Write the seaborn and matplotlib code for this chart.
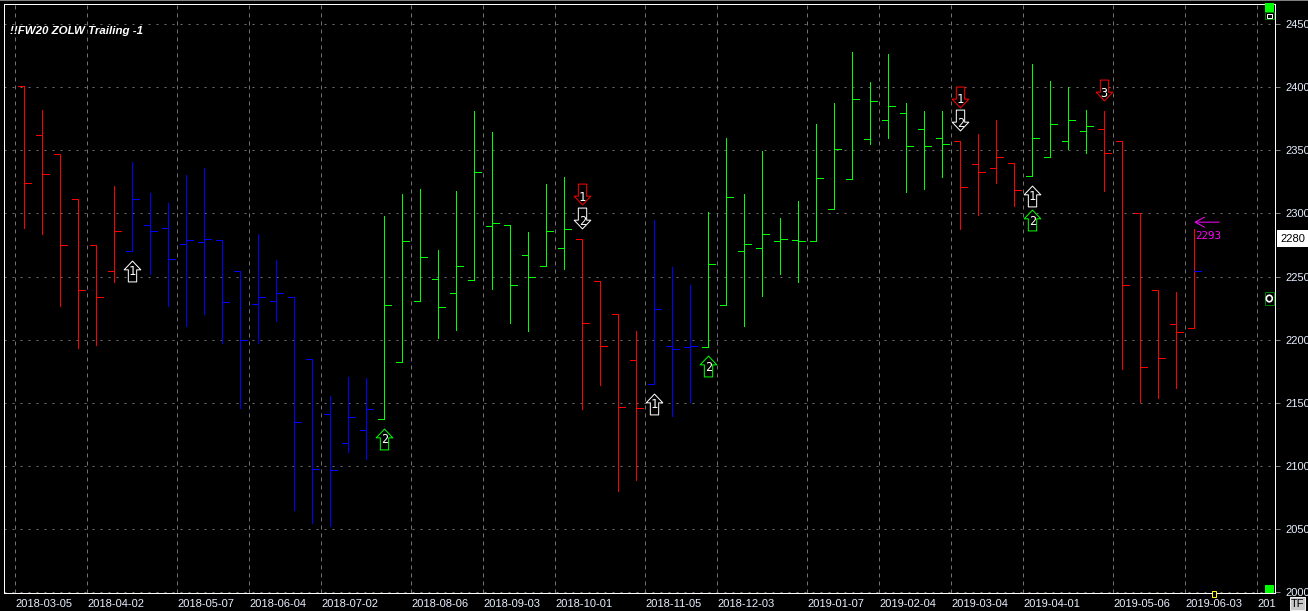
import pandas as pd
import matplotlib
matplotlib.use('Agg')
import matplotlib.pyplot as plt
from matplotlib.patches import Rectangle, Ellipse
from matplotlib.path import Path
import seaborn as sns

# weekly bars
bar_open = [2400.5, 2361.7, 2346.7, 2311.0, 2274.7, 2254.0, 2270.0, 2290.5, 2288.0, 2276.0, 2277.0,
            2278.6, 2254.0, 2228.0, 2231.0, 2233.5, 2184.4, 2141.0, 2118.0, 2128.4, 2137.0, 2182.0,
            2230.5, 2247.9, 2236.8, 2247.0, 2289.8, 2290.6, 2267.0, 2258.0, 2272.4, 2279.6, 2246.3,
            2220.0, 2183.8, 2165.0, 2195.0, 2194.0, 2194.0, 2227.4, 2270.2, 2272.6, 2278.0, 2279.0,
            2278.0, 2303.4, 2327.0, 2358.8, 2373.9, 2379.4, 2366.8, 2359.6, 2357.3, 2339.0, 2335.9,
            2339.8, 2329.6, 2344.6, 2357.3, 2365.0, 2366.8, 2357.3, 2300.3, 2239.3, 2212.4, 2209.0]
bar_high = [2400.5, 2381.5, 2346.7, 2311.0, 2274.7, 2321.4, 2340.4, 2316.0, 2308.0, 2330.0, 2335.6,
            2278.6, 2254.0, 2284.0, 2263.0, 2233.5, 2184.4, 2155.4, 2170.6, 2169.8, 2298.0, 2315.4,
            2319.4, 2271.0, 2317.8, 2381.0, 2364.0, 2290.6, 2285.0, 2323.0, 2329.0, 2279.6, 2246.3,
            2220.0, 2207.0, 2294.7, 2257.8, 2243.5, 2301.0, 2359.6, 2315.3, 2349.6, 2296.3, 2309.8,
            2370.7, 2387.3, 2427.7, 2404.0, 2426.0, 2387.3, 2381.0, 2381.0, 2357.3, 2362.8, 2373.9,
            2339.8, 2418.0, 2405.0, 2400.0, 2381.8, 2381.0, 2357.3, 2300.3, 2239.3, 2237.7, 2287.6]
bar_low = [2288.0, 2284.0, 2227.0, 2193.7, 2196.0, 2246.0, 2270.0, 2252.0, 2227.0, 2211.0, 2220.6,
           2197.0, 2146.0, 2197.0, 2215.0, 2065.5, 2055.0, 2052.8, 2111.0, 2106.0, 2137.0, 2182.0,
           2230.5, 2201.0, 2207.3, 2247.0, 2240.5, 2213.6, 2206.5, 2258.0, 2256.0, 2145.5, 2164.5,
           2080.0, 2089.0, 2165.0, 2139.6, 2150.7, 2194.0, 2227.4, 2210.6, 2234.3, 2251.6, 2245.3,
           2278.0, 2303.4, 2327.0, 2354.6, 2359.4, 2317.0, 2319.5, 2328.5, 2287.3, 2299.0, 2323.7,
           2305.5, 2329.6, 2344.6, 2351.0, 2347.5, 2317.4, 2176.5, 2151.0, 2154.0, 2161.5, 2209.0]
bar_close = [2323.7, 2331.0, 2274.7, 2239.0, 2233.5, 2286.0, 2311.0, 2286.0, 2263.6, 2278.6, 2279.4,
             2230.0, 2200.0, 2234.0, 2236.7, 2134.6, 2098.0, 2096.6, 2138.6, 2145.0, 2227.3, 2278.0,
             2265.3, 2225.7, 2258.0, 2332.6, 2292.0, 2243.0, 2249.5, 2286.0, 2287.5, 2213.0, 2195.0,
             2146.6, 2145.8, 2224.3, 2192.6, 2195.0, 2260.0, 2313.0, 2275.7, 2283.6, 2279.7, 2278.0,
             2328.0, 2351.0, 2390.5, 2389.0, 2385.0, 2353.0, 2353.0, 2354.9, 2320.8, 2332.7, 2344.6,
             2318.5, 2359.6, 2370.7, 2373.9, 2369.0, 2347.8, 2243.3, 2178.4, 2185.5, 2206.0, 2254.4]
bar_trend = ["r"] * 6 + ["b"] * 14 + ["g"] * 11 + ["r"] * 4 + ["b"] * 3 + ["g"] * 14 + ["r"] * 4 + ["g"] * 4 + ["r"] * 6
last_close_trend = "b"

date_bars = [0, 4, 9, 13, 17, 22, 26, 30, 35, 39, 44, 48, 52, 56, 61, 65, 69]
date_labels = ["2018-03-05", "2018-04-02", "2018-05-07", "2018-06-04", "2018-07-02", "2018-08-06",
               "2018-09-03", "2018-10-01", "2018-11-05", "2018-12-03", "2019-01-07", "2019-02-04",
               "2019-03-04", "2019-04-01", "2019-05-06", "2019-06-03", "201"]
price_ticks = [2000, 2050, 2100, 2150, 2200, 2250, 2300, 2350, 2400, 2450]

signal_bar = [6, 20, 31, 31, 35, 38, 52, 52, 56, 56, 60]
signal_price = [2254.7, 2121.8, 2315.0, 2295.9, 2149.5, 2179.0, 2392.4, 2373.6, 2314.0, 2294.7, 2397.3]
signal_dir = ["up", "up", "down", "down", "up", "up", "down", "down", "up", "up", "down"]
signal_color = ["w", "g", "r", "w", "w", "g", "r", "w", "w", "g", "r"]
signal_text = ["1", "2", "1", "2", "1", "2", "1", "2", "1", "2", "3"]

last_price = 2280
target_price = 2293
target_bar = 65

COLORS = {"r": "#ff0000", "b": "#0000ff", "g": "#00ff00", "w": "#ffffff"}
W, H = 1308, 611
PX = 0.72  # one pixel in points at dpi 100
TICK_W = 0.37

up_verts = [(0, 1), (0.8, 0.16), (0.4, 0.16), (0.4, -1), (-0.4, -1), (-0.4, 0.16), (-0.8, 0.16), (0, 1)]
down_verts = [(x, -y) for x, y in up_verts]
UP_ARROW = Path(up_verts, closed=True)
DOWN_ARROW = Path(down_verts, closed=True)


def bar_segments():
    rows = []
    seg = 0
    for i in range(len(bar_open)):
        close_trend = last_close_trend if i == len(bar_open) - 1 else bar_trend[i]
        rows.append((seg, i, bar_high[i], bar_trend[i]))
        rows.append((seg, i, bar_low[i], bar_trend[i]))
        rows.append((seg + 1, i - TICK_W, bar_open[i], bar_trend[i]))
        rows.append((seg + 1, i, bar_open[i], bar_trend[i]))
        rows.append((seg + 2, i, bar_close[i], close_trend))
        rows.append((seg + 2, i + TICK_W, bar_close[i], close_trend))
        seg += 3
    return pd.DataFrame(rows, columns=["seg", "bar", "price", "trend"])


def px_rect(fig, x0, y0, x1, y1, **kw):
    fig.add_artist(Rectangle((x0 / W, 1 - y1 / H), (x1 - x0) / W, (y1 - y0) / H,
                             transform=fig.transFigure, **kw))


def draw_widgets(fig):
    px_rect(fig, 0, 0, W, 1, fc="#808080", ec="none")
    px_rect(fig, 1265, 3, 1274, 12, fc="#00ff00", ec="none")
    px_rect(fig, 1265, 12, 1274, 19, fc="#000000", ec="#008000", lw=PX)
    px_rect(fig, 1267, 13.5, 1272, 17.5, fc="#000000", ec="#ffffff", lw=PX)
    px_rect(fig, 1265, 585, 1274, 593, fc="#00ff00", ec="none")
    px_rect(fig, 1265, 292, 1273.5, 305, fc="#000000", ec="#008000", lw=PX)
    fig.add_artist(Ellipse((1269.3 / W, 1 - 298.5 / H), 6 / W, 6.5 / H, transform=fig.transFigure,
                           fc="#000000", ec="#ffffff", lw=1.2))
    px_rect(fig, 1212, 591, 1216, 597, fc="#000000", ec="#ffff00", lw=PX)
    px_rect(fig, 1290, 597, 1305, 610, fc="#c8c8c8", ec="#f0f0f0", lw=PX)
    fig.text(1297.5 / W, 1 - 603.8 / H, "TF", color="#000000", fontsize=8, ha="center", va="center")


def main():
    sns.set_theme(style="dark", rc={
        "axes.facecolor": "black", "figure.facecolor": "black",
        "axes.edgecolor": "white", "axes.linewidth": PX,
    })
    plt.rcParams["font.family"] = ["Liberation Sans", "DejaVu Sans"]

    fig = plt.figure(figsize=(W / 100, H / 100), dpi=100)
    ax = fig.add_axes([3.5 / W, 1 - 593 / H, 1271 / W, 589.5 / H])

    sns.lineplot(data=bar_segments(), x="bar", y="price", units="seg", hue="trend", palette=COLORS,
                 estimator=None, sort=False, legend=False, linewidth=PX, antialiased=False,
                 solid_capstyle="butt", ax=ax)

    ax.set_xlim(-1.158, 69.46)
    ax.set_ylim(1999.6, 2466)
    ax.set_xlabel("")
    ax.set_ylabel("")

    ax.set_xticks([b - 0.5 for b in date_bars])
    ax.set_xticklabels(date_labels, ha="left", color="#e8f0ff", fontsize=8)
    ax.set_yticks(price_ticks)
    ax.set_yticklabels([str(p) for p in price_ticks], color="#e8f0ff", fontsize=8)
    ax.yaxis.tick_right()
    ax.tick_params(axis="x", length=0, pad=4.6)
    ax.tick_params(axis="y", length=3.6, width=PX, color="#808080", pad=4.2, right=True, left=False)
    ax.xaxis.grid(True, color="#707070", linewidth=PX, linestyle=(0, (4, 4)))
    ax.yaxis.grid(True, color="#707070", linewidth=PX, linestyle=(0, (2, 6)))
    ax.set_axisbelow(True)

    ax.text(6.5 / 1271, 1 - 27.2 / 589.5, "!!FW20 ZOLW Trailing -1", transform=ax.transAxes,
            color="white", fontsize=8.25, fontweight="bold", fontstyle="italic", va="center")

    # signal arrows with their numbers
    for b, p, d, c, t in zip(signal_bar, signal_price, signal_dir, signal_color, signal_text):
        marker = UP_ARROW if d == "up" else DOWN_ARROW
        ax.scatter([b], [p], marker=marker, s=225, facecolors="black", edgecolors=COLORS[c],
                   linewidths=PX, zorder=5)
        ax.annotate(t, (b, p), xytext=(0, -0.8 if d == "up" else -2.2), textcoords="offset points",
                    color="white", fontsize=8.6, family="DejaVu Sans Mono", ha="center", va="center",
                    zorder=6)

    # target arrow
    ax.annotate("", xy=(target_bar, target_price), xytext=(target_bar + 1.38, target_price),
                arrowprops=dict(arrowstyle="->,head_length=0.55,head_width=0.3", color="#ff00ff",
                                lw=PX, shrinkA=0, shrinkB=0))
    ax.annotate(str(target_price), (target_bar, target_price), xytext=(0.6, -10), textcoords="offset points",
                color="#ff00ff", fontsize=7.8, family="DejaVu Sans Mono", ha="left", va="center")

    # last price tag
    ax.text(1.0045, last_price, str(last_price), transform=ax.get_yaxis_transform(), color="black",
            fontsize=8, va="center", ha="left", clip_on=False,
            bbox=dict(boxstyle="square,pad=0.32", fc="white", ec="white", lw=0))

    draw_widgets(fig)
    fig.savefig("out.png", dpi=100, facecolor="black")
    plt.close(fig)


if __name__ == "__main__":
    main()
